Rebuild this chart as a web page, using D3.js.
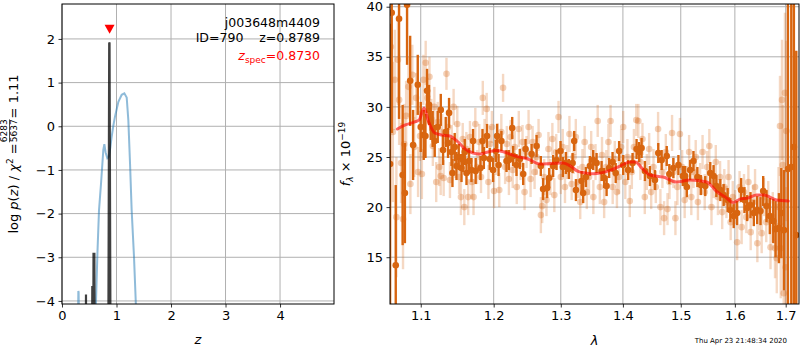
<!DOCTYPE html>
<html><head><meta charset="utf-8">
<script src="https://cdn.jsdelivr.net/npm/d3@7"></script>
<style>body{margin:0;background:#fff} svg{display:block} text{font-family:"DejaVu Sans",sans-serif}</style>
</head><body><svg id="c" width="800" height="350"></svg>
<script>
// ---------------- DATA ----------------
// left panel: p(z) curves
const pzTicksX = [0, 1, 2, 3, 4];
const pzTicksY = [-4, -3, -2, -1, 0, 1, 2];
const chiZ   = [0.27, 0.295, 0.30, 0.305, 0.33, 0.45, 0.60, 0.624, 0.65, 0.679, 0.716, 0.758, 0.777, 0.80, 0.832, 0.86, 0.885, 0.911, 0.94, 0.972, 1.034, 1.095, 1.144, 1.187, 1.217, 1.248, 1.278, 1.321, 1.352, 1.38];
const chiVal = [-6, -4.3, -3.77, -3.8, -6, -8, -6, -4.0, -2.9, -1.92, -1.31, -0.54, -0.41, -0.6, -0.73, -0.7, -0.5, -0.24, 0.0, 0.22, 0.56, 0.72, 0.755, 0.66, 0.14, -0.85, -1.92, -2.99, -3.98, -5];
const pzZ    = [0.40, 0.435, 0.44, 0.445, 0.48, 0.55, 0.556, 0.562, 0.572, 0.578, 0.594, 0.600, 0.65, 0.80, 0.848, 0.866, 0.872, 0.892, 0.95];
const pzVal  = [-6, -6, -3.85, -6, -6, -6, -3.66, -6, -6, -2.92, -2.92, -6, -6, -6, -6, 1.92, 1.90, -6, -6];
const zSpec = 0.8730;
const titleLines = ["j003648m4409", "ID=790    z=0.8789"];

// right panel: spectrum
const specTicksX = [1.1, 1.2, 1.3, 1.4, 1.5, 1.6, 1.7];
const specTicksY = [15, 20, 25, 30, 35, 40];
// [lambda, flux, err]
const lightPts = [
[1.0615,36.0,6],[1.064,27.5,7],[1.0665,32.7,5],[1.0685,19.0,6],[1.0705,34.7,4.5],[1.072,30.7,4.5],[1.0745,24.4,4],[1.077,18.8,5],
[1.0785,26.3,4],[1.081,29.1,3.5],[1.084,32.0,3],[1.0865,22.3,3],[1.089,33.2,3],[1.0915,26.0,3],[1.094,30.9,2.5],[1.0965,23.5,2.5],
[1.099,27.1,2.5],[1.1015,23.3,2.5],[1.1035,32.7,2.5],[1.1065,34.4,2.2],[1.109,30.9,2],[1.1115,33.0,2],[1.114,28.8,2],[1.116,26.1,2],
[1.118,30.0,2],[1.1205,22.5,2],[1.1225,28.5,2],[1.1245,24.0,1.9],[1.1265,23.1,1.9],[1.1285,27.5,1.8],[1.1305,22.9,1.8],[1.1343,33.3,1.6],
[1.1365,28.0,1.8],[1.139,22.7,1.8],[1.1415,26.5,1.7],[1.144,30.0,1.8],[1.1465,24.5,1.6],[1.149,28.3,1.8],[1.1515,23.0,1.7],[1.154,21.0,1.8],
[1.1565,26.8,1.6],[1.1587,20.0,1.8],[1.1615,25.8,1.7],[1.164,21.0,1.8],[1.1665,27.0,1.6],[1.169,22.5,1.7],[1.1715,21.0,1.8],[1.174,28.3,1.6],
[1.1765,24.0,1.7],[1.1795,26.5,1.8],[1.182,23.0,1.6],[1.1845,30.9,1.7],[1.187,27.0,1.8],[1.190,29.8,1.6],[1.1925,22.5,1.7],[1.195,26.3,1.8],
[1.1975,28.0,1.6],[1.2005,21.6,1.7],[1.203,25.0,1.8],[1.2055,26.8,1.6],[1.208,21.7,1.7],[1.211,27.5,1.8],[1.2135,31.9,1.4],[1.2165,24.0,1.7],
[1.219,26.3,1.8],[1.222,22.8,1.6],[1.2245,27.0,1.7],[1.2275,23.7,1.8],[1.2305,26.0,1.6],[1.2335,22.0,1.7],[1.2365,27.8,1.8],[1.239,24.3,1.6],
[1.242,26.5,1.7],[1.245,21.5,1.8],[1.248,25.5,1.6],[1.251,28.0,1.7],[1.254,22.8,1.8],[1.257,26.5,1.6],[1.260,23.5,1.7],[1.263,25.0,1.8],
[1.266,27.2,1.6],[1.2695,19.2,1.8],[1.2715,20.1,1.7],[1.2745,23.0,1.8],[1.278,20.7,1.6],[1.281,25.8,1.7],[1.284,23.0,1.8],[1.287,26.8,1.6],
[1.290,21.2,1.7],[1.293,25.5,1.8],[1.2965,29.0,1.6],[1.300,23.0,1.7],[1.303,26.0,1.8],[1.3065,22.0,1.6],[1.310,24.5,1.7],[1.3135,27.3,1.8],
[1.317,22.3,1.6],[1.320,25.0,1.7],[1.3235,27.0,1.8],[1.327,22.5,1.6],[1.3305,20.5,1.7],[1.334,24.0,1.8],[1.3375,26.5,1.6],[1.341,21.5,1.7],
[1.3445,23.0,1.8],[1.348,26.0,1.6],[1.3515,21.0,1.7],[1.355,24.5,1.8],[1.3585,28.6,1.6],[1.362,22.0,1.7],[1.3655,25.2,1.8],[1.369,20.5,1.6],
[1.3725,24.0,1.7],[1.376,26.5,1.8],[1.3795,28.6,1.6],[1.383,22.0,1.7],[1.3865,24.8,1.8],[1.390,21.5,1.6],[1.3935,23.0,1.7],[1.397,26.0,1.8],
[1.4005,28.0,1.6],[1.404,22.5,1.7],[1.4075,25.0,1.8],[1.4115,20.6,1.6],[1.415,23.5,1.7],[1.4185,26.0,1.8],[1.4225,28.7,1.6],[1.426,28.6,1.7],
[1.4295,24.5,1.8],[1.433,26.8,1.6],[1.437,21.0,1.7],[1.4405,23.5,1.8],[1.4445,25.8,1.6],[1.448,21.5,1.7],[1.452,24.0,1.8],[1.456,22.0,1.6],
[1.460,27.8,1.7],[1.464,20.0,1.8],[1.4675,23.5,1.6],[1.4705,18.9,1.7],[1.4735,25.5,1.8],[1.4765,19.8,1.6],[1.480,22.5,1.7],[1.4845,27.4,1.8],
[1.487,23.5,1.6],[1.4905,18.9,1.7],[1.494,22.0,1.8],[1.4985,27.3,1.6],[1.5025,24.0,1.7],[1.507,20.7,1.8],[1.511,22.5,1.6],[1.515,25.5,1.7],
[1.519,21.0,1.8],[1.523,23.5,1.6],[1.527,25.0,1.7],[1.531,20.5,1.8],[1.535,22.8,1.6],[1.5395,25.5,1.7],[1.5435,21.5,1.8],[1.548,24.0,1.6],
[1.552,26.1,1.7],[1.556,20.0,1.8],[1.560,22.5,1.6],[1.564,24.5,1.7],[1.568,21.0,1.8],[1.572,23.0,1.6],[1.576,19.5,1.7],[1.580,22.0,1.8],
[1.584,20.5,1.6],[1.588,23.0,1.7],[1.592,18.5,1.8],[1.596,21.0,1.6],[1.6005,20.0,1.7],[1.6043,16.5,1.8],[1.609,22.0,1.6],[1.613,18.0,1.7],
[1.6175,21.5,1.8],[1.622,19.0,1.6],[1.626,22.5,1.7],[1.6305,17.5,1.8],[1.635,20.5,1.7],[1.639,22.0,1.8],[1.6435,16.4,1.9],[1.648,19.5,1.8],
[1.652,17.4,2.0],[1.6565,21.0,1.9],[1.661,18.5,2.0],[1.665,20.5,2.1],[1.6695,16.0,2.2],[1.674,19.0,2.5],[1.6785,15.9,3],[1.682,14.9,3.5],
[1.6855,20.0,4],[1.6885,28.1,5],[1.690,15.9,5],[1.6925,30.7,6],[1.694,24.2,6],[1.696,11.4,7],[1.6985,31.4,8],[1.700,14.0,8],[1.7015,27.6,9]
];
const darkPts = [
[1.0605,24.3,14],[1.0626,39.4,12],[1.0677,14.2,8],[1.0719,38.8,10],[1.0765,23.2,7],[1.0794,21.4,5],[1.0822,40.2,6],[1.0862,32.6,4.5],
[1.0900,26.2,3.5],[1.0961,32.2,3],[1.1000,28.0,2.5],[1.1039,27.2,2.5],[1.1062,27.1,2.2],[1.1083,31.6,2.2],[1.1109,30.2,2],[1.1132,28.5,1.8],
[1.1158,27.8,1.8],[1.1185,26.6,1.6],[1.1225,28.0,1.6],[1.1266,29.7,1.6],[1.1297,25.7,1.5],[1.1333,27.5,1.5],[1.1364,26.4,1.5],[1.1378,29.4,1.5],
[1.1411,25.5,1.4],[1.1424,23.4,1.4],[1.1455,26.0,1.4],[1.1479,24.1,1.4],[1.1510,25.0,1.3],[1.1548,23.9,1.4],[1.1570,24.7,1.2],[1.1593,25.5,1.3],
[1.1617,23.4,1.2],[1.1652,24.6,1.3],[1.1686,23.7,1.2],[1.1708,26.6,1.2],[1.1745,23.6,1.3],[1.1812,23.9,1.2],[1.1841,26.6,1.2],[1.1860,24.9,1.1],
[1.1905,27.1,1.2],[1.1944,24.8,1.1],[1.1991,23.7,1.2],[1.2030,25.6,1.1],[1.2049,27.1,1.2],[1.2070,24.2,1.1],[1.2111,26.6,1.0],[1.2185,24.6,1.1],
[1.2220,24.7,1.0],[1.2268,27.9,1.1],[1.2282,25.1,1.0],[1.2331,24.2,1.1],[1.2380,24.8,1.0],[1.2430,23.3,1.1],[1.2465,25.8,1.0],[1.2555,25.3,1.0],
[1.2630,26.1,1.1],[1.2694,24.1,1.0],[1.2729,21.8,1.1],[1.2790,21.9,1.0],[1.2821,22.9,1.0],[1.2882,24.1,1.1],[1.2934,24.7,1.0],[1.2996,25.6,1.0],
[1.3032,24.0,1.0],[1.3079,24.4,1.1],[1.3126,23.8,1.0],[1.3184,24.4,1.0],[1.3210,26.6,1.0],[1.3237,21.7,1.1],[1.3326,22.6,1.0],[1.3352,21.4,1.0],
[1.3395,23.0,1.0],[1.3459,24.1,1.0],[1.3512,24.7,1.0],[1.3567,24.4,1.0],[1.3648,23.6,1.0],[1.3690,22.9,1.0],[1.3730,22.1,1.0],[1.3772,23.9,1.0],
[1.3828,24.5,1.0],[1.3880,23.4,1.0],[1.3937,25.6,1.0],[1.4004,24.2,1.0],[1.4088,23.7,1.0],[1.4162,24.4,1.0],[1.4230,25.8,1.0],[1.4274,25.5,1.0],
[1.4315,25.9,1.0],[1.4372,23.6,1.0],[1.4458,23.1,1.0],[1.4545,22.7,1.0],[1.4603,25.4,1.0],[1.4662,24.7,1.0],[1.4751,25.1,1.0],[1.4797,23.3,1.0],
[1.4868,23.9,1.0],[1.4958,24.2,1.0],[1.5037,23.1,1.0],[1.5078,23.1,1.0],[1.5109,22.0,1.0],[1.5169,23.7,1.0],[1.5229,24.6,1.0],[1.5300,23.0,1.0],
[1.5365,22.2,1.0],[1.5445,22.1,1.0],[1.5537,23.4,1.1],[1.5599,23.1,1.1],[1.5650,22.1,1.1],[1.5725,21.7,1.1],[1.5787,21.2,1.1],[1.5863,20.7,1.2],
[1.5914,19.7,1.2],[1.5978,19.1,1.2],[1.6043,19.4,1.2],[1.6120,21.7,1.2],[1.6184,20.7,1.3],[1.6237,19.9,1.3],[1.6301,20.2,1.3],[1.6366,19.4,1.3],
[1.6432,19.7,1.4],[1.6497,19.6,1.4],[1.6550,21.6,1.5],[1.6616,20.1,1.6],[1.6681,19.1,1.8],[1.6750,18.6,2.2],[1.6796,17.8,2.8],[1.6863,17.9,3.5],
[1.6911,19.4,4.5],[1.6964,17.7,6],[1.7045,23.8,20],[1.7114,24.0,17],[1.7167,26.0,22],[1.7216,17.2,18.4]
];
const modelLam  = [1.0698,1.080,1.092,1.098,1.1043,1.110,1.1186,1.128,1.1387,1.150,1.160,1.1708,1.180,1.192,1.204,1.215,1.233,1.250,1.268,1.285,1.3037,1.315,1.327,1.340,1.351,1.3784,1.395,1.4117,1.421,1.432,1.4458,1.469,1.4926,1.5165,1.547,1.5656,1.582,1.597,1.6097,1.625,1.642,1.656,1.6815,1.7052];
const modelFlux = [27.8,28.2,28.5,28.7,29.9,28.6,27.4,27.2,27.1,26.5,25.8,25.4,25.3,25.5,25.66,25.5,25.06,24.8,24.3,24.35,24.4,24.1,23.56,23.4,23.33,23.66,24.1,24.5,24.5,23.9,23.2,23.0,22.5,22.7,22.5,21.56,21.0,20.46,20.8,20.9,21.2,21.2,20.7,20.6];
const timestamp = "Thu Apr 23 21:48:34 2020";

// ---------------- DRAW ----------------
const svg = d3.select('#c');
svg.append('rect').attr('width',800).attr('height',350).attr('fill','#fff');
const GRID = '#b0b0b0', FS = 13;
const fmtMinus = v => (v < 0 ? '\u2212' + Math.abs(v) : '' + v);

function box(P, id){
  svg.append('clipPath').attr('id', id).append('rect')
    .attr('x', P.x0).attr('y', P.y0).attr('width', P.x1-P.x0).attr('height', P.y1-P.y0);
}
function grid(P, xs, xv, ys, yv){
  const g = svg.append('g');
  g.selectAll('.gx').data(xv).join('line')
    .attr('x1', d=>xs(d)).attr('x2', d=>xs(d)).attr('y1', P.y0).attr('y2', P.y1)
    .attr('stroke', GRID).attr('stroke-width', 1);
  g.selectAll('.gy').data(yv).join('line')
    .attr('y1', d=>ys(d)).attr('y2', d=>ys(d)).attr('x1', P.x0).attr('x2', P.x1)
    .attr('stroke', GRID).attr('stroke-width', 1);
}
function axes(P, xs, xv, xf, ys, yv, yf){
  const ax = svg.append('g').attr('transform', `translate(0,${P.y1})`)
    .call(d3.axisBottom(xs).tickValues(xv).tickFormat(xf).tickSize(3.5).tickPadding(3.5));
  const ay = svg.append('g').attr('transform', `translate(${P.x0},0)`)
    .call(d3.axisLeft(ys).tickValues(yv).tickFormat(yf).tickSize(3.5).tickPadding(3.5));
  [ax, ay].forEach(a => {
    a.select('.domain').remove();
    a.selectAll('text').attr('font-size', FS).attr('font-family', '"DejaVu Sans",sans-serif').attr('fill', '#000');
    a.selectAll('line').attr('stroke', '#000').attr('stroke-width', 0.8);
  });
  svg.append('rect').attr('x', P.x0).attr('y', P.y0).attr('width', P.x1-P.x0).attr('height', P.y1-P.y0)
    .attr('fill', 'none').attr('stroke', '#000').attr('stroke-width', 1);
}

// ---- left panel ----
const L = {x0:62, x1:334, y0:4, y1:304};
const xL = d3.scaleLinear().domain([0, 4.99]).range([L.x0, L.x1]);
const yL = d3.scaleLinear().domain([-4.07, 2.80]).range([L.y1, L.y0]);
box(L, 'clipL');
grid(L, xL, pzTicksX, yL, pzTicksY);
const gL = svg.append('g').attr('clip-path', 'url(#clipL)');
gL.append('path').datum(chiZ.map((z,i)=>[z, chiVal[i]]))
  .attr('d', d3.line().x(d=>xL(d[0])).y(d=>yL(d[1])))
  .attr('fill','none').attr('stroke','#1f77b4').attr('stroke-opacity',0.5).attr('stroke-width',2);
gL.append('path').datum(pzZ.map((z,i)=>[z, pzVal[i]]))
  .attr('d', d3.line().x(d=>xL(d[0])).y(d=>yL(d[1])))
  .attr('fill','none').attr('stroke','#000').attr('stroke-opacity',0.75).attr('stroke-width',2.2).attr('stroke-linejoin','miter');
axes(L, xL, pzTicksX, d=>d, yL, pzTicksY, fmtMinus);
// zspec marker
const tx = xL(zSpec), ty = yL(2.22);
svg.append('path').attr('d', `M${tx-5},${ty-4.5}L${tx+5},${ty-4.5}L${tx},${ty+4.5}Z`).attr('fill','red');
// title text
titleLines.forEach((t,i)=>{
  svg.append('text').attr('x', 320).attr('y', 27 + i*15).attr('text-anchor','end')
    .attr('font-size', 12.5).style('white-space','pre').text(t);
});
const zt = svg.append('text').attr('x', 320).attr('y', 60).attr('text-anchor','end').attr('font-size',12.5).attr('fill','red');
zt.append('tspan').attr('font-style','italic').text('z');
zt.append('tspan').attr('font-size',9).attr('dy',3).text('spec');
zt.append('tspan').attr('dy',-3).text('=' + zSpec.toFixed(4));
// x label
svg.append('text').attr('x', (L.x0+L.x1)/2).attr('y', 344).attr('text-anchor','middle')
  .attr('font-size', FS).attr('font-style','italic').text('z');
// y label (rotated, with fraction)
{
  const g = svg.append('g').attr('transform','translate(18,154) rotate(-90)');
  const t1 = g.append('text').attr('font-size', FS).attr('x',0).attr('y',0);
  t1.append('tspan').text('log ');
  t1.append('tspan').attr('font-style','italic').text('p');
  t1.append('tspan').text('(');
  t1.append('tspan').attr('font-style','italic').text('z');
  t1.append('tspan').text(') / ');
  t1.append('tspan').attr('font-style','italic').text('χ');
  t1.append('tspan').attr('font-size',9).attr('dy',-5).text('2');
  t1.append('tspan').attr('dy',5).text(' = ');
  const w1 = t1.node().getComputedTextLength();
  const num = g.append('text').attr('font-size',9).attr('text-anchor','middle').attr('y',-11).text('6283');
  const den = g.append('text').attr('font-size',9).attr('text-anchor','middle').attr('y',-1).text('5637');
  const wf = Math.max(num.node().getComputedTextLength(), den.node().getComputedTextLength()) + 2;
  const t2 = g.append('text').attr('font-size', FS).attr('y',0).text(' = 1.11');
  const w2 = t2.node().getComputedTextLength();
  const total = w1 + wf + w2;
  const s = -total/2;
  t1.attr('x', s);
  num.attr('x', s + w1 + wf/2); den.attr('x', s + w1 + wf/2);
  g.append('line').attr('x1', s+w1+1).attr('x2', s+w1+wf-1).attr('y1',-8.5).attr('y2',-8.5).attr('stroke','#000').attr('stroke-width',0.7);
  t2.attr('x', s + w1 + wf);
}

// ---- right panel ----
const R = {x0:390, x1:799, y0:4, y1:304};
const xR = d3.scaleLog().domain([1.0604, 1.7272]).range([R.x0, R.x1]);
const yR = d3.scaleLinear().domain([10.33, 40.27]).range([R.y1, R.y0]);
box(R, 'clipR');
grid(R, xR, specTicksX, yR, specTicksY);
const gR = svg.append('g').attr('clip-path','url(#clipR)');
const ORG = '#d8650f';
gR.selectAll('.le').data(lightPts).join('line')
  .attr('x1', d=>xR(d[0])).attr('x2', d=>xR(d[0])).attr('y1', d=>yR(d[1]-d[2])).attr('y2', d=>yR(d[1]+d[2]))
  .attr('stroke', ORG).attr('stroke-opacity', 0.25).attr('stroke-width', 2.4);
gR.selectAll('.lp').data(lightPts).join('circle')
  .attr('cx', d=>xR(d[0])).attr('cy', d=>yR(d[1])).attr('r', 3.3)
  .attr('fill', ORG).attr('fill-opacity', 0.3);
gR.selectAll('.de').data(darkPts).join('line')
  .attr('x1', d=>xR(d[0])).attr('x2', d=>xR(d[0])).attr('y1', d=>yR(d[1]-d[2])).attr('y2', d=>yR(d[1]+d[2]))
  .attr('stroke', ORG).attr('stroke-width', 2.4);
gR.selectAll('.dp').data(darkPts).join('circle')
  .attr('cx', d=>xR(d[0])).attr('cy', d=>yR(d[1])).attr('r', 3.3).attr('fill', ORG);
gR.append('path').datum(modelLam.map((l,i)=>[l, modelFlux[i]]))
  .attr('d', d3.line().curve(d3.curveMonotoneX).x(d=>xR(d[0])).y(d=>yR(d[1])))
  .attr('fill','none').attr('stroke','red').attr('stroke-opacity',0.6).attr('stroke-width',3).attr('stroke-linecap','round');
axes(R, xR, specTicksX, d3.format('.1f'), yR, specTicksY, d=>d);
// labels
svg.append('text').attr('x', (R.x0+R.x1)/2).attr('y', 345).attr('text-anchor','middle')
  .attr('font-size', FS).attr('font-style','italic').text('λ');
{
  const t = svg.append('text').attr('transform','translate(350,154) rotate(-90)').attr('text-anchor','middle').attr('font-size',FS);
  t.append('tspan').attr('font-style','italic').text('f');
  t.append('tspan').attr('font-style','italic').attr('font-size',9).attr('dy',3).text('λ');
  t.append('tspan').attr('dy',-3).text(' × 10');
  t.append('tspan').attr('font-size',9).attr('dy',-5).text('−19');
}
svg.append('text').attr('x', 787).attr('y', 343).attr('text-anchor','end').attr('font-size', 7).text(timestamp);
</script></body></html>
